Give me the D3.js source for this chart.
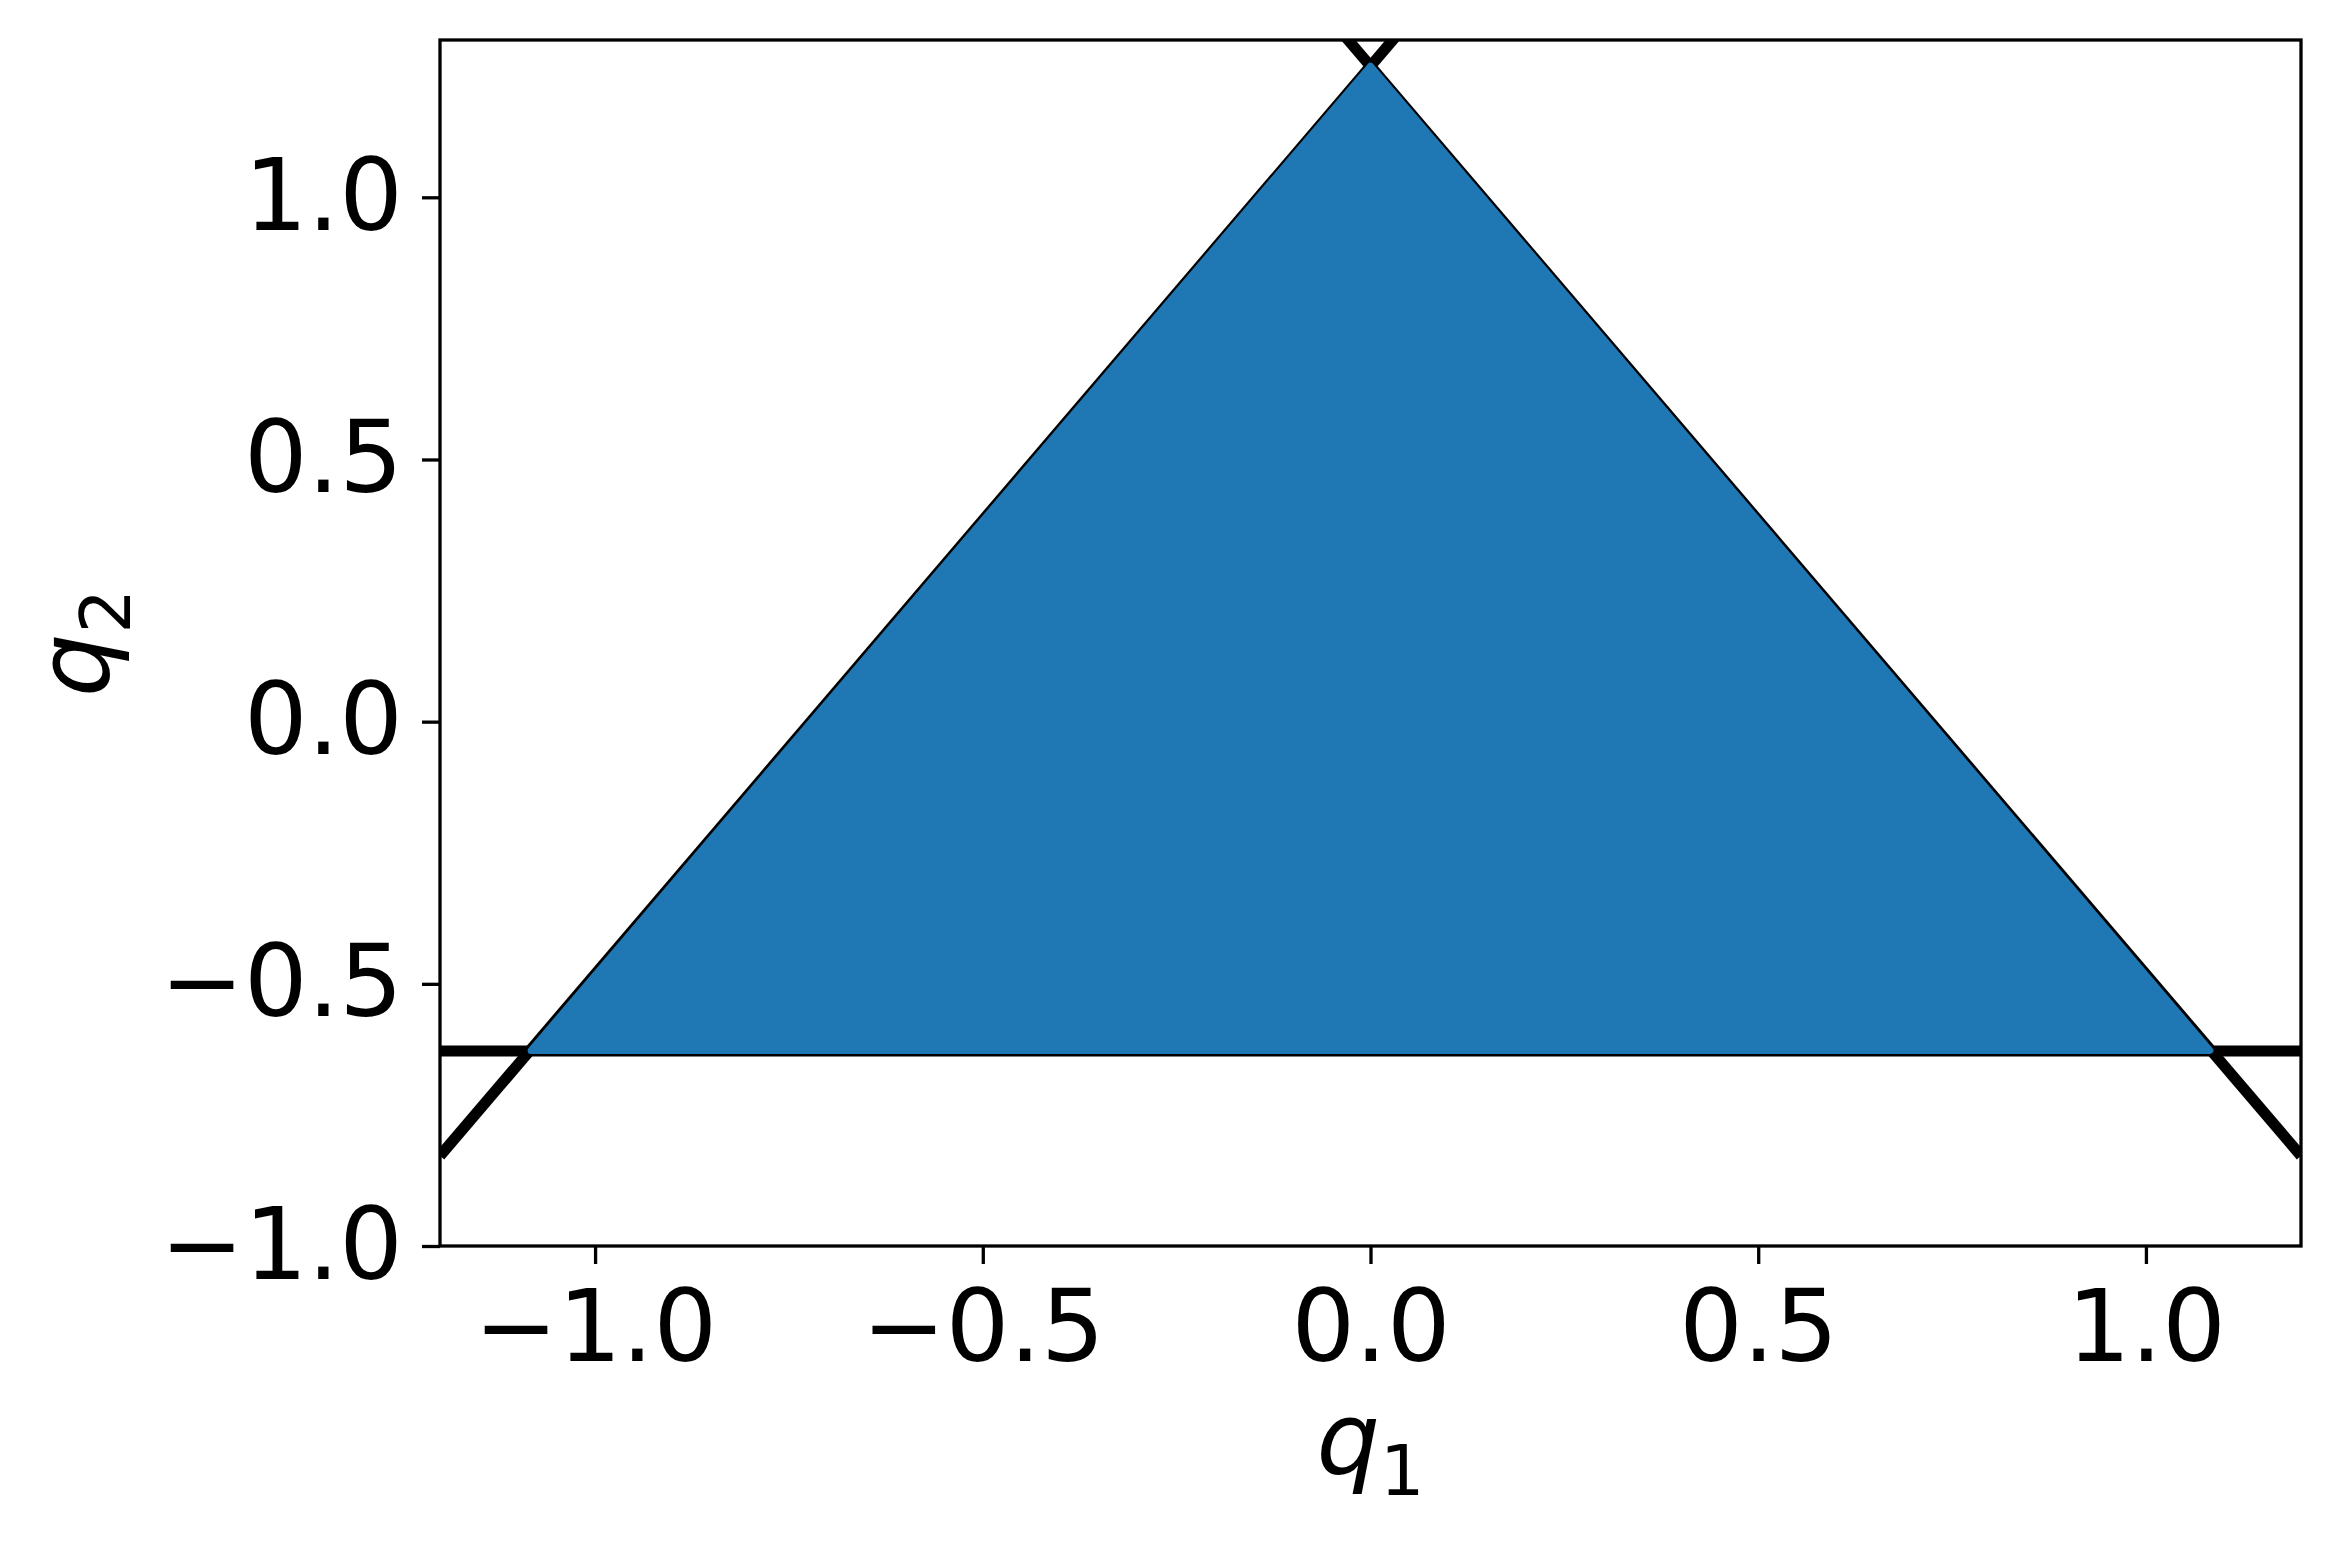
<!DOCTYPE html>
<html>
<head>
<meta charset="utf-8">
<script src="https://cdn.jsdelivr.net/npm/d3@7"></script>
<style>
  html, body { margin: 0; padding: 0; background: #ffffff; }
  svg { display: block; }
  text { font-family: "DejaVu Sans", sans-serif; fill: #000; }
</style>
</head>
<body>
<svg id="chart" width="2340" height="1543"></svg>
<script>
// ---- data ----
const xDomain = [-1.2, 1.2];
const yDomain = [-1.0, 1.3];
const xTicks = [-1.0, -0.5, 0.0, 0.5, 1.0];
const xTickLabels = ["\u22121.0", "\u22120.5", "0.0", "0.5", "1.0"];
const yTicks = [-1.0, -0.5, 0.0, 0.5, 1.0];
const yTickLabels = ["\u22121.0", "\u22120.5", "0.0", "0.5", "1.0"];

// feasible region (filled with sample points) : triangle vertices
const regionQ1 = [-1.0825, 0.0, 1.0825];
const regionQ2 = [-0.627, 1.25, -0.627];

// boundary lines
const lineAQ1 = [-1.2, 0.06];      // rising edge  q2 = 1.25 + sqrt(3) q1
const lineAQ2 = [-0.828, 1.354];
const lineBQ1 = [-0.06, 1.2];      // falling edge q2 = 1.25 - sqrt(3) q1
const lineBQ2 = [1.354, -0.828];
const lineCQ1 = [-1.2, 1.2];       // base q2 = -0.625
const lineCQ2 = [-0.628, -0.628];

// ---- layout ----
const svg = d3.select("#chart");
const L = 440, R = 2301, T = 40, B = 1246;
const x = d3.scaleLinear().domain(xDomain).range([L, R]);
const y = d3.scaleLinear().domain(yDomain).range([B, T]);

svg.append("defs").append("clipPath").attr("id", "clip")
  .append("rect").attr("x", L).attr("y", T).attr("width", R - L).attr("height", B - T);

const plot = svg.append("g").attr("clip-path", "url(#clip)");
const line = d3.line().x(d => x(d[0])).y(d => y(d[1]));

[[lineAQ1, lineAQ2], [lineBQ1, lineBQ2], [lineCQ1, lineCQ2]].forEach(([qs1, qs2]) => {
  plot.append("path")
    .attr("d", line(qs1.map((v, i) => [v, qs2[i]])))
    .attr("fill", "none")
    .attr("stroke", "#000")
    .attr("stroke-width", 11);
});

const regionPts = regionQ1.map((v, i) => [v, regionQ2[i]]);
plot.append("path")
  .attr("d", line(regionPts) + "Z")
  .attr("fill", "#1f77b4")
  .attr("stroke", "#1f77b4")
  .attr("stroke-width", 7)
  .attr("stroke-linejoin", "round");

// ---- axes ----
const xAxis = d3.axisBottom(x).tickValues(xTicks)
  .tickFormat((d, i) => xTickLabels[i]).tickSize(18).tickPadding(26);
const gx = svg.append("g").attr("transform", `translate(0,${B})`).call(xAxis);
gx.select(".domain").remove();
gx.selectAll(".tick line").attr("stroke", "#000").attr("stroke-width", 3.3);
gx.selectAll(".tick text").attr("font-size", 100).attr("font-family", "DejaVu Sans").attr("fill", "#000");

const yAxis = d3.axisLeft(y).tickValues(yTicks)
  .tickFormat((d, i) => yTickLabels[i]).tickSize(18).tickPadding(19);
const gy = svg.append("g").attr("transform", `translate(${L},0)`).call(yAxis);
gy.select(".domain").remove();
gy.selectAll(".tick line").attr("stroke", "#000").attr("stroke-width", 3.3);
gy.selectAll(".tick text").attr("font-size", 100).attr("font-family", "DejaVu Sans").attr("fill", "#000");

// frame
svg.append("rect")
  .attr("x", L).attr("y", T).attr("width", R - L).attr("height", B - T)
  .attr("fill", "none").attr("stroke", "#000").attr("stroke-width", 3.3);

// axis labels
const xl = svg.append("text")
  .attr("x", (L + R) / 2).attr("y", 1473)
  .attr("text-anchor", "middle").attr("font-size", 100);
xl.append("tspan").attr("font-style", "italic").text("q");
xl.append("tspan").attr("font-size", 70).attr("dy", 22).text("1");

const yl = svg.append("text")
  .attr("transform", `translate(108,${(T + B) / 2}) rotate(-90)`)
  .attr("text-anchor", "middle").attr("font-size", 100);
yl.append("tspan").attr("font-style", "italic").text("q");
yl.append("tspan").attr("font-size", 70).attr("dy", 22).text("2");
</script>
</body>
</html>
